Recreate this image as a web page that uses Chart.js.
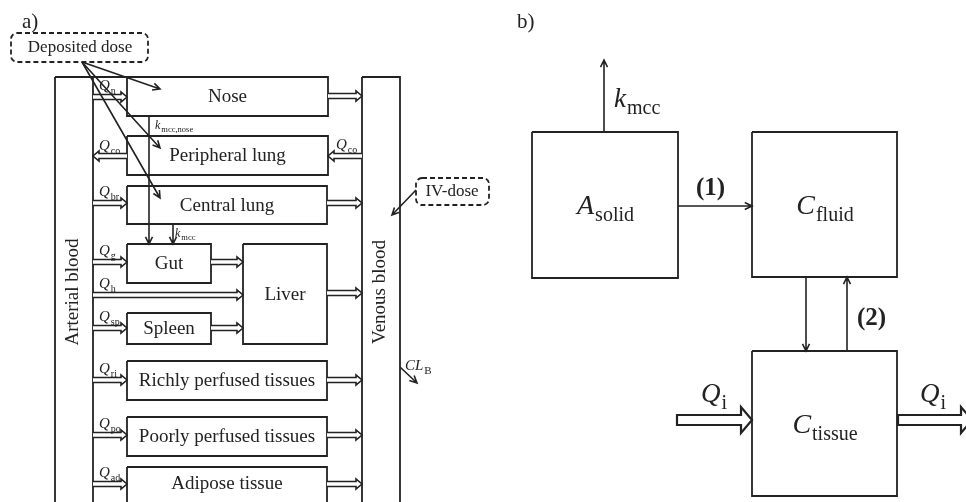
<!DOCTYPE html>
<html>
<head>
<meta charset="utf-8">
<script src="https://cdn.jsdelivr.net/npm/chart.js@4.4.1/dist/chart.umd.min.js"></script>
<style>
  html, body { margin: 0; padding: 0; background: #fff; }
  #wrap { width: 966px; height: 502px; }
</style>
</head>
<body>
<div id="wrap"><canvas id="diagram" width="966" height="502"></canvas></div>
<script>
// panel a compartments (diagram units, y grows downward)
const organNames = ['Nose', 'Peripheral lung', 'Central lung', 'Gut', 'Liver', 'Spleen',
  'Richly perfused tissues', 'Poorly perfused tissues', 'Adipose tissue'];
const organBoxes = [[127, 77, 328, 116], [127, 136, 328, 175], [127, 186, 327, 224],
  [127, 244, 211, 283], [243, 244, 327, 344], [127, 313, 211, 344],
  [127, 361, 327, 400], [127, 417, 327, 456], [127, 467, 327, 520]];
const bloodNames = ['Arterial blood', 'Venous blood'];
const bloodBoxes = [[55, 77, 93, 520], [362, 77, 400, 520]];

// blood flows from arterial side into the organs
const inflowSubs = ['n', 'br', 'g', 'h', 'sp', 'ri', 'po', 'ad'];
const inflowY = [97, 203, 262, 295, 328, 380, 435, 484];
const inflowEnd = [127, 127, 127, 243, 127, 127, 127, 127];
// outflows towards venous blood (or liver)
const outflowY = [96, 203, 262, 328, 293, 380, 435, 484];
const outflowStart = [328, 327, 211, 211, 327, 327, 327, 327];
const outflowEnd = [362, 362, 243, 243, 362, 362, 362, 362];

// panel b compartments
const modelMain = ['A', 'C', 'C'];
const modelSubs = ['solid', 'fluid', 'tissue'];
const modelBoxes = [[532, 132, 678, 278], [752, 132, 897, 277], [752, 351, 897, 496]];

// thin arrows: x0, y0, x1, y1
const thinArrows = [[82, 62, 160, 89], [82, 62, 160, 148], [82, 62, 160, 198],
  [149, 116, 149, 244], [173, 224, 173, 244], [416, 190, 392, 215], [400, 367, 417, 383],
  [604, 132, 604, 60], [678, 206, 752, 206], [806, 277, 806, 351], [847, 351, 847, 277]];

const SERIF = '"Liberation Serif", "DejaVu Serif", serif';
const INK = '#222';

function rectPoints(b) {
  return [{x: b[0], y: b[1]}, {x: b[2], y: b[1]}, {x: b[2], y: b[3]}, {x: b[0], y: b[3]}, {x: b[0], y: b[1]}];
}

const datasets = [];
organBoxes.concat(bloodBoxes, modelBoxes).forEach(b => {
  datasets.push({data: rectPoints(b), showLine: true, pointRadius: 0, borderColor: INK, borderWidth: 1.8, fill: false});
});
// top edge between arterial column and nose
datasets.push({data: [{x: 93, y: 77}, {x: 128, y: 77}], showLine: true, pointRadius: 0, borderColor: INK, borderWidth: 1.8});

function subText(ctx, x, y, main, sub, size, subSize, align, bold) {
  const mf = (bold ? 'bold ' : 'italic ') + size + 'px ' + SERIF;
  const sf = subSize + 'px ' + SERIF;
  ctx.font = mf; const w1 = ctx.measureText(main).width;
  ctx.font = sf; const w2 = sub ? ctx.measureText(sub).width : 0;
  let x0 = x;
  if (align === 'center') x0 = x - (w1 + w2) / 2;
  ctx.textAlign = 'left';
  ctx.textBaseline = 'alphabetic';
  ctx.font = mf; ctx.fillText(main, x0, y);
  if (sub) { ctx.font = sf; ctx.fillText(sub, x0 + w1 + 1, y + subSize * 0.35); }
}

function hollowArrow(ctx, x0, x1, y, half, headLen, headHalf, closed) {
  const dir = Math.sign(x1 - x0);
  const xb = x1 - dir * headLen;
  ctx.beginPath();
  ctx.moveTo(x0, y - half);
  ctx.lineTo(xb, y - half); ctx.lineTo(xb, y - headHalf); ctx.lineTo(x1, y);
  ctx.lineTo(xb, y + headHalf); ctx.lineTo(xb, y + half); ctx.lineTo(x0, y + half);
  if (closed) ctx.closePath();
  ctx.fillStyle = '#fff';
  ctx.fill();
  ctx.stroke();
}

function lineArrow(ctx, x0, y0, x1, y1, head) {
  const a = Math.atan2(y1 - y0, x1 - x0);
  ctx.beginPath();
  ctx.moveTo(x0, y0); ctx.lineTo(x1, y1);
  ctx.moveTo(x1 - head * Math.cos(a - 0.45), y1 - head * Math.sin(a - 0.45));
  ctx.lineTo(x1, y1);
  ctx.lineTo(x1 - head * Math.cos(a + 0.45), y1 - head * Math.sin(a + 0.45));
  ctx.stroke();
}

function dashedBox(ctx, x0, y0, x1, y1) {
  ctx.save();
  ctx.setLineDash([5, 3]);
  ctx.lineWidth = 1.8;
  ctx.beginPath();
  ctx.roundRect(x0, y0, x1 - x0, y1 - y0, 6);
  ctx.stroke();
  ctx.restore();
}

const diagramPlugin = {
  id: 'diagram',
  afterDatasetsDraw(chart) {
    const ctx = chart.ctx;
    const px = v => chart.scales.x.getPixelForValue(v);
    const py = v => chart.scales.y.getPixelForValue(v);
    ctx.save();
    ctx.strokeStyle = INK;
    ctx.fillStyle = INK;
    ctx.lineWidth = 1.6;

    // small double-line flow arrows
    inflowY.forEach((y, i) => {
      hollowArrow(ctx, px(93), px(inflowEnd[i]), py(y), 2.5, 6, 5, false);
      ctx.fillStyle = INK;
      subText(ctx, px(99), py(y - 7), 'Q', inflowSubs[i], 15, 10, 'left');
    });
    outflowY.forEach((y, i) => {
      hollowArrow(ctx, px(outflowStart[i]), px(outflowEnd[i]), py(y), 2.5, 6, 5, false);
    });
    hollowArrow(ctx, px(127), px(93), py(156), 2.5, 6, 5, false);
    hollowArrow(ctx, px(362), px(328), py(156), 2.5, 6, 5, false);
    ctx.fillStyle = INK;
    subText(ctx, px(99), py(150), 'Q', 'co', 15, 10, 'left');
    subText(ctx, px(336), py(149), 'Q', 'co', 15, 10, 'left');

    // big flow arrows of panel b
    ctx.lineWidth = 2.2;
    hollowArrow(ctx, px(677), px(752), py(420), 5, 11, 13, true);
    hollowArrow(ctx, px(898), px(972), py(420), 5, 11, 13, true);
    ctx.lineWidth = 1.6;

    thinArrows.forEach(a => lineArrow(ctx, px(a[0]), py(a[1]), px(a[2]), py(a[3]), 8));

    dashedBox(ctx, px(11), py(33), px(148), py(62));
    dashedBox(ctx, px(416), py(178), px(489), py(205));

    ctx.fillStyle = INK;
    ctx.textAlign = 'center';
    ctx.textBaseline = 'middle';
    ctx.font = '17px ' + SERIF;
    ctx.fillText('Deposited dose', px(80), py(48));
    ctx.fillText('IV-dose', px(452), py(192));

    ctx.font = '19px ' + SERIF;
    organBoxes.forEach((b, i) => {
      const bottom = Math.min(b[3], 500);
      ctx.fillText(organNames[i], px((b[0] + b[2]) / 2), py(i === 8 ? 484 : (b[1] + bottom) / 2 + 1));
    });
    bloodBoxes.forEach((b, i) => {
      ctx.save();
      ctx.translate(px((b[0] + b[2]) / 2 - 1), py(292));
      ctx.rotate(-Math.PI / 2);
      ctx.fillText(bloodNames[i], 0, 0);
      ctx.restore();
    });

    ctx.textAlign = 'left';
    ctx.textBaseline = 'alphabetic';
    ctx.font = '21px ' + SERIF;
    ctx.fillText('a)', px(22), py(28));
    ctx.fillText('b)', px(517), py(28));

    subText(ctx, px(155), py(129), 'k', 'mcc,nose', 12, 8.5, 'left');
    subText(ctx, px(175), py(237), 'k', 'mcc', 12, 8.5, 'left');
    subText(ctx, px(405), py(370), 'CL', 'B', 15, 11, 'left');

    modelBoxes.forEach((b, i) => {
      subText(ctx, px((b[0] + b[2]) / 2), py((b[1] + b[3]) / 2 + 9), modelMain[i], modelSubs[i], 28, 20, 'center');
    });
    subText(ctx, px(614), py(107), 'k', 'mcc', 27, 20, 'left');
    subText(ctx, px(701), py(402), 'Q', 'i', 27, 20, 'left');
    subText(ctx, px(920), py(402), 'Q', 'i', 27, 20, 'left');
    subText(ctx, px(696), py(195), '(1)', '', 25, 12, 'left', true);
    subText(ctx, px(857), py(325), '(2)', '', 25, 12, 'left', true);
    ctx.restore();
  }
};

new Chart(document.getElementById('diagram').getContext('2d'), {
  type: 'scatter',
  data: {datasets: datasets},
  options: {
    responsive: false,
    animation: false,
    devicePixelRatio: 1,
    layout: {padding: 0},
    plugins: {legend: {display: false}, tooltip: {enabled: false}},
    scales: {
      x: {type: 'linear', min: 0, max: 966, display: false},
      y: {type: 'linear', min: 0, max: 502, reverse: true, display: false}
    }
  },
  plugins: [diagramPlugin]
});
</script>
</body>
</html>
